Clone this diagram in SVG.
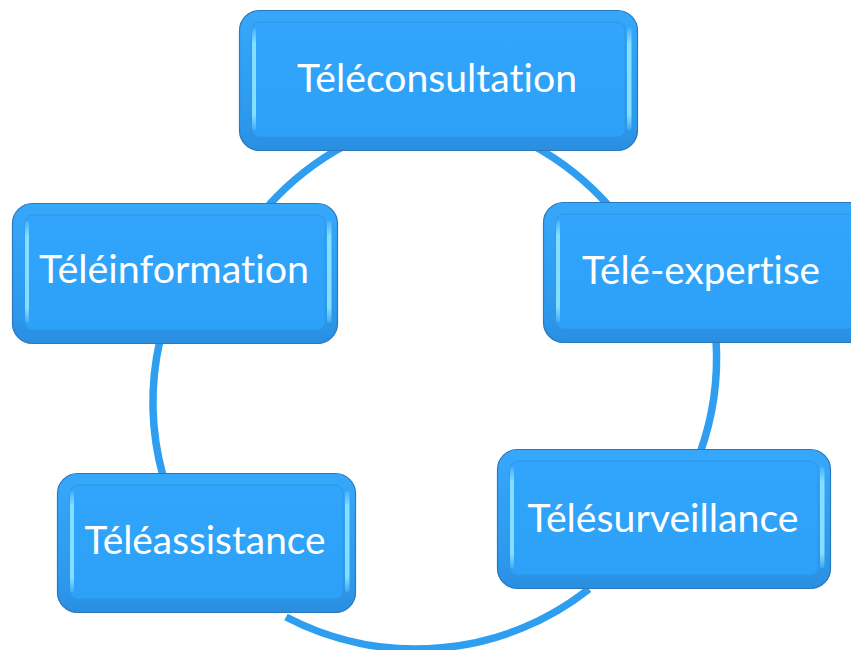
<svg xmlns="http://www.w3.org/2000/svg" width="851" height="650" viewBox="0 0 851 650">
  <defs>
    <linearGradient id="outerGrad" x1="0" y1="0" x2="0" y2="1">
      <stop offset="0" stop-color="#36A8FB"/>
      <stop offset="0.8" stop-color="#2C98EC"/>
      <stop offset="1" stop-color="#2A8EE0"/>
    </linearGradient>
    <linearGradient id="innerGrad" x1="0" y1="0" x2="0" y2="1">
      <stop offset="0" stop-color="#31A5FB"/>
      <stop offset="1" stop-color="#2DA0F7"/>
    </linearGradient>
    <linearGradient id="hl" x1="0" y1="0" x2="0" y2="1">
      <stop offset="0" stop-color="#8EE6FF" stop-opacity="0.2"/>
      <stop offset="0.15" stop-color="#8EE6FF" stop-opacity="0.9"/>
      <stop offset="0.85" stop-color="#8EE6FF" stop-opacity="0.9"/>
      <stop offset="1" stop-color="#8EE6FF" stop-opacity="0.2"/>
    </linearGradient>
  </defs>
  <style>
    .arc { fill: none; stroke: #2E9EF0; stroke-width: 7.5; stroke-linecap: butt; }
    .outer { fill: url(#outerGrad); stroke: #2B78BC; stroke-width: 1.2; }
    .inner { fill: url(#innerGrad); stroke: #2C96E8; stroke-width: 1; }
    .hl { fill: url(#hl); }
    .label { font-family: Lato, "Open Sans", "Liberation Sans", sans-serif; font-size: 38px; fill: #FFFFFF; font-variant-ligatures: none; font-feature-settings: "liga" 0, "clig" 0; }
  </style>

  <g id="connectors">
    <path class="arc" d="M 269 205 A 280 280 0 0 1 344 146"/>
    <path class="arc" d="M 534 146 A 280 280 0 0 1 608 205"/>
    <path class="arc" d="M 716 340 A 280 280 0 0 1 700 453"/>
    <path class="arc" d="M 589 589 A 280 280 0 0 1 286 617"/>
    <path class="arc" d="M 163 476 A 280 280 0 0 1 160 340"/>
  </g>

  <g id="node-teleconsultation">
    <rect class="outer" x="239.5" y="10.5" width="398" height="140" rx="20"/>
    <rect class="inner" x="252" y="22" width="373" height="115" rx="8"/>
    <rect class="hl" x="252" y="28" width="4" height="102" rx="2"/>
    <rect class="hl" x="627" y="28" width="4.5" height="102" rx="2"/>
    <text class="label" x="437" y="92" text-anchor="middle" textLength="280" lengthAdjust="spacingAndGlyphs">Téléconsultation</text>
  </g>

  <g id="node-teleinformation">
    <rect class="outer" x="12.5" y="203.5" width="325" height="140" rx="20"/>
    <rect class="inner" x="25" y="215" width="300" height="115" rx="8"/>
    <rect class="hl" x="25" y="221" width="4" height="102" rx="2"/>
    <rect class="hl" x="327" y="221" width="4.5" height="102" rx="2"/>
    <text class="label" x="174" y="283" text-anchor="middle" textLength="270" lengthAdjust="spacingAndGlyphs">Téléinformation</text>
  </g>

  <g id="node-tele-expertise">
    <rect class="outer" x="543.5" y="202.5" width="325" height="140" rx="20"/>
    <rect class="inner" x="556" y="214" width="300" height="115" rx="8"/>
    <rect class="hl" x="556" y="220" width="4" height="102" rx="2"/>
    <text class="label" x="701" y="284" text-anchor="middle" textLength="238" lengthAdjust="spacingAndGlyphs">Télé-expertise</text>
  </g>

  <g id="node-teleassistance">
    <rect class="outer" x="57.5" y="473.5" width="298" height="139" rx="20"/>
    <rect class="inner" x="70" y="485" width="273" height="114" rx="8"/>
    <rect class="hl" x="70" y="491" width="4" height="101" rx="2"/>
    <rect class="hl" x="345" y="491" width="4.5" height="101" rx="2"/>
    <text class="label" x="205" y="554" text-anchor="middle" textLength="241" lengthAdjust="spacingAndGlyphs">Téléassistance</text>
  </g>

  <g id="node-telesurveillance">
    <rect class="outer" x="497.5" y="449.5" width="333" height="139" rx="20"/>
    <rect class="inner" x="510" y="461" width="308" height="114" rx="8"/>
    <rect class="hl" x="510" y="467" width="4" height="101" rx="2"/>
    <rect class="hl" x="820" y="467" width="4.5" height="101" rx="2"/>
    <text class="label" x="663" y="532" text-anchor="middle" textLength="271" lengthAdjust="spacingAndGlyphs">Télésurveillance</text>
  </g>
</svg>
